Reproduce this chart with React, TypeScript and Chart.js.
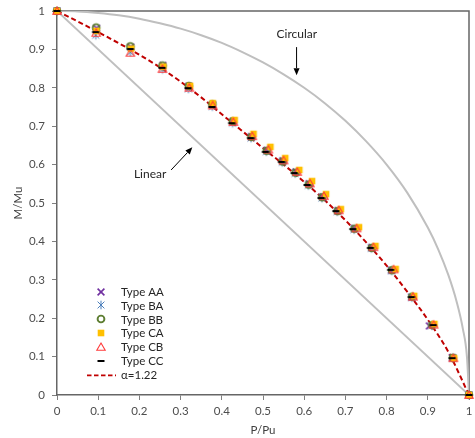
import React, { useEffect, useRef } from 'react';
import { Chart, registerables } from 'chart.js';

Chart.register(...registerables);

// ---------- data ----------
const P_AA = [0, 0.096, 0.179, 0.257, 0.320, 0.378, 0.428, 0.472, 0.510, 0.548, 0.580, 0.612, 0.645, 0.682, 0.722, 0.764, 0.812, 0.861, 0.904, 0.960, 1.0];
const M_AA = [1, 0.955, 0.906, 0.858, 0.804, 0.756, 0.713, 0.673, 0.637, 0.610, 0.581, 0.550, 0.516, 0.480, 0.434, 0.384, 0.325, 0.255, 0.180, 0.097, 0];

const P_BA = [0, 0.094, 0.178, 0.256, 0.319, 0.377, 0.426, 0.471, 0.508, 0.547, 0.578, 0.610, 0.643, 0.680, 0.721, 0.763, 0.812, 0.861, 0.910, 0.961, 1.0];
const M_BA = [1, 0.937, 0.893, 0.848, 0.797, 0.751, 0.708, 0.669, 0.634, 0.606, 0.577, 0.546, 0.513, 0.478, 0.431, 0.382, 0.324, 0.254, 0.181, 0.096, 0];

const P_BB = [0, 0.095, 0.178, 0.256, 0.320, 0.377, 0.427, 0.472, 0.509, 0.548, 0.579, 0.611, 0.644, 0.681, 0.722, 0.764, 0.813, 0.862, 0.911, 0.961, 1.0];
const M_BB = [1, 0.957, 0.908, 0.858, 0.805, 0.757, 0.713, 0.672, 0.636, 0.608, 0.579, 0.548, 0.515, 0.479, 0.433, 0.383, 0.325, 0.256, 0.182, 0.097, 0];

const P_CA = [0, 0.096, 0.180, 0.258, 0.323, 0.378, 0.431, 0.477, 0.518, 0.554, 0.588, 0.619, 0.653, 0.689, 0.733, 0.773, 0.822, 0.867, 0.916, 0.964, 1.0];
const M_CA = [1, 0.948, 0.902, 0.855, 0.805, 0.760, 0.716, 0.680, 0.646, 0.617, 0.586, 0.557, 0.523, 0.484, 0.437, 0.388, 0.328, 0.258, 0.185, 0.096, 0];

const P_CB = [0, 0.095, 0.178, 0.256, 0.321, 0.378, 0.428, 0.474, 0.513, 0.550, 0.583, 0.614, 0.648, 0.684, 0.727, 0.768, 0.817, 0.864, 0.914, 0.962, 1.0];
const M_CB = [1, 0.943, 0.891, 0.849, 0.800, 0.754, 0.711, 0.674, 0.639, 0.611, 0.581, 0.551, 0.518, 0.481, 0.434, 0.385, 0.327, 0.256, 0.183, 0.096, 0];

const P_CC = [0, 0.094, 0.178, 0.255, 0.318, 0.376, 0.424, 0.470, 0.506, 0.545, 0.576, 0.607, 0.641, 0.677, 0.718, 0.761, 0.810, 0.860, 0.913, 0.959, 1.0];
const M_CC = [1, 0.945, 0.901, 0.852, 0.799, 0.750, 0.708, 0.669, 0.633, 0.607, 0.578, 0.547, 0.513, 0.479, 0.432, 0.383, 0.326, 0.255, 0.182, 0.096, 0];

const P_ALPHA = [0, 0.05, 0.1, 0.15, 0.2, 0.25, 0.3, 0.35, 0.4, 0.45, 0.5, 0.55, 0.6, 0.65, 0.7, 0.75, 0.8, 0.85, 0.9, 0.95, 1.0];
const M_ALPHA = [1, 0.973, 0.945, 0.916, 0.886, 0.853, 0.816, 0.775, 0.731, 0.687, 0.643, 0.600, 0.555, 0.507, 0.455, 0.398, 0.337, 0.269, 0.196, 0.112, 0];

const P_CIRC = [0, 0.05, 0.1, 0.15, 0.2, 0.25, 0.3, 0.35, 0.4, 0.45, 0.5, 0.55, 0.6, 0.65, 0.7, 0.75, 0.8, 0.85, 0.9, 0.925, 0.95, 0.97, 0.985, 0.995, 1.0];
const M_CIRC = [1, 0.999, 0.995, 0.989, 0.980, 0.968, 0.954, 0.937, 0.917, 0.893, 0.866, 0.835, 0.800, 0.760, 0.714, 0.661, 0.600, 0.527, 0.436, 0.380, 0.312, 0.243, 0.173, 0.100, 0];

const P_LIN = [0, 1];
const M_LIN = [1, 0];

const TICK_VALUES = [0, 0.1, 0.2, 0.3, 0.4, 0.5, 0.6, 0.7, 0.8, 0.9, 1];
const TICK_LABELS = ['0', '0.1', '0.2', '0.3', '0.4', '0.5', '0.6', '0.7', '0.8', '0.9', '1'];

const SERIES_NAMES = ['Type AA', 'Type BA', 'Type BB', 'Type CA', 'Type CB', 'Type CC'];
const FIT_NAME = 'α=1.22';
const X_TITLE = 'P/Pu';
const Y_TITLE = 'M/Mu';
const NOTE_CIRC = 'Circular';
const NOTE_LIN = 'Linear';

const FONT = 'Lato, "Liberation Sans", sans-serif';

// ---------- markers ----------
type Kind = 'x' | 'star' | 'circle' | 'square' | 'triangle' | 'dash';
function makeMarker(kind: Kind): HTMLCanvasElement {
  const c = document.createElement('canvas');
  c.width = 12;
  c.height = 12;
  const ctx = c.getContext('2d')!;
  ctx.translate(6, 6);
  ctx.lineCap = 'butt';
  if (kind === 'x') {
    ctx.strokeStyle = '#7030A0';
    ctx.lineWidth = 1.6;
    ctx.beginPath();
    ctx.moveTo(-3.4, -3.4); ctx.lineTo(3.4, 3.4);
    ctx.moveTo(3.4, -3.4); ctx.lineTo(-3.4, 3.4);
    ctx.stroke();
  } else if (kind === 'star') {
    ctx.strokeStyle = '#4A7EBB';
    ctx.lineWidth = 1;
    ctx.beginPath();
    ctx.moveTo(-3.4, -3.4); ctx.lineTo(3.4, 3.4);
    ctx.moveTo(3.4, -3.4); ctx.lineTo(-3.4, 3.4);
    ctx.moveTo(0, -4.3); ctx.lineTo(0, 4.3);
    ctx.stroke();
  } else if (kind === 'circle') {
    ctx.strokeStyle = '#5E7E32';
    ctx.lineWidth = 1.9;
    ctx.beginPath();
    ctx.arc(0, 0, 3.4, 0, Math.PI * 2);
    ctx.stroke();
  } else if (kind === 'square') {
    ctx.fillStyle = '#FFC000';
    ctx.fillRect(-3.3, -3.3, 6.6, 6.6);
  } else if (kind === 'triangle') {
    ctx.strokeStyle = '#FF3B3B';
    ctx.lineWidth = 1.1;
    ctx.beginPath();
    ctx.moveTo(0, -4); ctx.lineTo(4.2, 3.3); ctx.lineTo(-4.2, 3.3); ctx.closePath();
    ctx.stroke();
  } else if (kind === 'dash') {
    ctx.fillStyle = '#000000';
    ctx.fillRect(-3.5, -1, 7, 2);
  }
  return c;
}

function pts(xs: number[], ys: number[]) {
  return xs.map((x, i) => ({ x, y: ys[i] }));
}

function arrow(ctx: CanvasRenderingContext2D, x1: number, y1: number, x2: number, y2: number) {
  const ang = Math.atan2(y2 - y1, x2 - x1);
  const head = 7;
  const half = 3;
  ctx.save();
  ctx.strokeStyle = '#000';
  ctx.fillStyle = '#000';
  ctx.lineWidth = 1;
  ctx.beginPath();
  ctx.moveTo(x1, y1);
  ctx.lineTo(x2 - Math.cos(ang) * head, y2 - Math.sin(ang) * head);
  ctx.stroke();
  ctx.translate(x2, y2);
  ctx.rotate(ang);
  ctx.beginPath();
  ctx.moveTo(0, 0);
  ctx.lineTo(-head, -half);
  ctx.lineTo(-head, half);
  ctx.closePath();
  ctx.fill();
  ctx.restore();
}

export default function App() {
  const ref = useRef<HTMLCanvasElement | null>(null);

  useEffect(() => {
    if (!ref.current) return;
    const kinds: Kind[] = ['x', 'star', 'circle', 'square', 'triangle', 'dash'];
    const markers = kinds.map(makeMarker);
    const seriesP = [P_AA, P_BA, P_BB, P_CA, P_CB, P_CC];
    const seriesM = [M_AA, M_BA, M_BB, M_CA, M_CB, M_CC];

    const markerSets = SERIES_NAMES.map((name, i) => ({
      label: name,
      data: pts(seriesP[i], seriesM[i]),
      showLine: false,
      pointStyle: markers[i] as any,
      pointRadius: 5,
      clip: false,
      order: 6 - i,
    }));

    const axis = (position: 'bottom' | 'left') => ({
      type: 'linear' as const,
      position,
      min: 0,
      max: 1,
      afterBuildTicks: (s: any) => {
        s.ticks = TICK_VALUES.map((v) => ({ value: v }));
      },
      afterFit: (s: any) => {
        if (position === 'bottom') {
          s.height = 43;
          s.paddingLeft = 0;
          s.paddingRight = 0;
        } else {
          s.width = 57;
          s.paddingTop = 0;
          s.paddingBottom = 0;
        }
      },
      ticks: {
        autoSkip: false,
        maxRotation: 0,
        padding: position === 'bottom' ? 4 : 7,
        color: '#4d4d4d',
        font: { family: FONT, size: 11.5 },
        callback: (_v: any, i: number) => TICK_LABELS[i],
      },
      grid: {
        drawOnChartArea: false,
        drawTicks: true,
        tickLength: 5,
        tickColor: '#808080',
        tickWidth: 1,
      },
      border: { display: true, color: '#666666', width: 1.5 },
    });

    const decor = {
      id: 'decor',
      beforeDraw(chart: any) {
        const ctx = chart.ctx;
        ctx.save();
        ctx.fillStyle = '#ffffff';
        ctx.fillRect(0, 0, chart.width, chart.height);
        ctx.restore();
      },
      beforeDatasetsDraw(chart: any) {
        const ctx: CanvasRenderingContext2D = chart.ctx;
        const a = chart.chartArea;
        ctx.save();
        ctx.strokeStyle = '#666666';
        ctx.lineWidth = 1.5;
        ctx.beginPath();
        ctx.moveTo(a.left, a.top);
        ctx.lineTo(a.right, a.top);
        ctx.lineTo(a.right, a.bottom);
        ctx.stroke();
        ctx.restore();
      },
      afterDatasetsDraw(chart: any) {
        const ctx: CanvasRenderingContext2D = chart.ctx;
        const xs = chart.scales.x;
        const ys = chart.scales.y;
        const a = chart.chartArea;
        ctx.save();

        // annotations
        ctx.fillStyle = '#262626';
        ctx.font = `12px ${FONT}`;
        ctx.textAlign = 'center';
        ctx.textBaseline = 'middle';
        ctx.fillText(NOTE_CIRC, xs.getPixelForValue(0.582), ys.getPixelForValue(0.940));
        arrow(ctx, xs.getPixelForValue(0.5815), ys.getPixelForValue(0.906), xs.getPixelForValue(0.5815), ys.getPixelForValue(0.833));
        ctx.fillText(NOTE_LIN, xs.getPixelForValue(0.226), ys.getPixelForValue(0.575));
        arrow(ctx, xs.getPixelForValue(0.277), ys.getPixelForValue(0.586), xs.getPixelForValue(0.3285), ys.getPixelForValue(0.645));

        // legend
        const lx = 101;
        const tx = 121;
        const y0 = 291.5;
        const dy = 13.9;
        ctx.textAlign = 'left';
        ctx.font = `11.5px ${FONT}`;
        SERIES_NAMES.forEach((name, i) => {
          const y = y0 + dy * i;
          ctx.drawImage(markers[i], Math.round(lx) - 6, Math.round(y) - 6);
          ctx.fillStyle = '#262626';
          ctx.fillText(name, tx, y + 0.5);
        });
        const yl = y0 + dy * 6 + 0.5;
        ctx.strokeStyle = '#C00000';
        ctx.lineWidth = 1.8;
        ctx.setLineDash([4.5, 2.5]);
        ctx.beginPath();
        ctx.moveTo(87, yl);
        ctx.lineTo(116, yl);
        ctx.stroke();
        ctx.setLineDash([]);
        ctx.fillStyle = '#262626';
        ctx.fillText(FIT_NAME, tx, yl);

        // axis titles
        ctx.font = `11.5px ${FONT}`;
        ctx.textAlign = 'center';
        ctx.fillStyle = '#404040';
        ctx.fillText(X_TITLE, (a.left + a.right) / 2, 430);
        ctx.translate(18, (a.top + a.bottom) / 2);
        ctx.rotate(-Math.PI / 2);
        ctx.fillText(Y_TITLE, 0, 0);
        ctx.restore();
      },
    };

    const chart = new Chart(ref.current, {
      type: 'scatter',
      data: {
        datasets: [
          {
            label: 'Circular',
            data: pts(P_CIRC, M_CIRC),
            showLine: true,
            borderColor: '#BFBFBF',
            borderWidth: 2,
            pointRadius: 0,
            cubicInterpolationMode: 'monotone',
            order: 20,
          },
          {
            label: 'Linear',
            data: pts(P_LIN, M_LIN),
            showLine: true,
            borderColor: '#BFBFBF',
            borderWidth: 2,
            pointRadius: 0,
            order: 19,
          },
          {
            label: FIT_NAME,
            data: pts(P_ALPHA, M_ALPHA),
            showLine: true,
            borderColor: '#C00000',
            borderWidth: 2,
            borderDash: [5, 3],
            pointRadius: 0,
            cubicInterpolationMode: 'monotone',
            order: 18,
          },
          ...markerSets,
        ] as any,
      },
      options: {
        animation: false,
        responsive: false,
        maintainAspectRatio: false,
        layout: { padding: { left: 0, right: 3, top: 11, bottom: 0 } },
        plugins: {
          legend: { display: false },
          tooltip: { enabled: false },
          title: { display: false },
        },
        scales: {
          x: axis('bottom') as any,
          y: axis('left') as any,
        },
      },
      plugins: [decor],
    });
    return () => chart.destroy();
  }, []);

  return (
    <div style={{ position: 'fixed', left: 0, top: 0, width: 475, height: 438, background: '#fff' }}>
      <canvas ref={ref} width={475} height={438} style={{ display: 'block', width: 475, height: 438 }} />
    </div>
  );
}
